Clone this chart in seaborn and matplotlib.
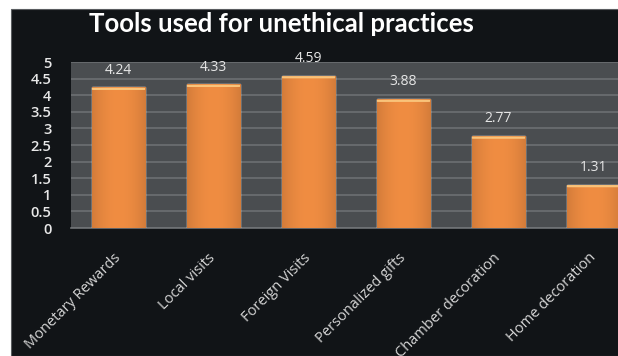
import matplotlib
matplotlib.use("Agg")
import matplotlib.pyplot as plt
import matplotlib.patches as mpatches
import numpy as np
import pandas as pd
import seaborn as sns

categories = ["Monetary Rewards", "Local visits", "Foreign Visits",
              "Personalized gifts", "Chamber decoration", "Home decoration"]
scores = [4.24, 4.33, 4.59, 3.88, 2.77, 1.31]
y_ticks = [0, 0.5, 1, 1.5, 2, 2.5, 3, 3.5, 4, 4.5, 5]
y_tick_labels = ["0", "0.5", "1", "1.5", "2", "2.5", "3", "3.5", "4", "4.5", "5"]
title = "Tools used for unethical practices"

sns.set_theme(style="dark")
plt.rcParams["font.family"] = ["Open Sans", "DejaVu Sans"]

W, H = 618, 356
fig = plt.figure(figsize=(W / 100, H / 100), dpi=100, facecolor="white")

# dark slide panel behind the chart
fig.patches.append(mpatches.Rectangle((11 / W, 0), 1, 1 - 9 / H,
                                      transform=fig.transFigure,
                                      facecolor="#111417", edgecolor="#5a5d60",
                                      linewidth=0.8, zorder=-10))

ax = fig.add_axes([71 / W, 128 / H, 570 / W, 166 / H])
ax.set_zorder(5)
ax.set_facecolor("#4a4d50")

df = pd.DataFrame({"tool": categories, "score": scores})
sns.barplot(data=df, x="tool", y="score", color="#ef8a3e", width=0.56,
            saturation=1, ax=ax, zorder=3)

ax.set_ylim(0, 5)
ax.set_xlim(-0.5, len(categories) - 0.5)
ax.set_yticks(y_ticks)
ax.set_yticklabels(y_tick_labels)
ax.yaxis.grid(True, color="#676a6d", linewidth=1.4, zorder=1)
ax.xaxis.grid(False)
ax.set_axisbelow(True)
for side in ["top", "right", "left"]:
    ax.spines[side].set_visible(False)
ax.spines["bottom"].set_color("#707376")
ax.spines["bottom"].set_linewidth(1.2)

ax.tick_params(axis="y", length=0, pad=14, labelsize=10.5, labelcolor="#e8e8e8")
ax.tick_params(axis="x", length=0, pad=20, labelsize=10.5, labelcolor="#d6d6d6")
for lbl in ax.get_yticklabels():
    lbl.set_fontweight("semibold")
for lbl in ax.get_xticklabels():
    lbl.set_rotation(45)
    lbl.set_ha("right")
    lbl.set_va("center")
    lbl.set_rotation_mode("anchor")
ax.set_xlabel("")
ax.set_ylabel("")

# soft bevel shading on each bar
grad = np.linspace(0, 1, 64)
shade = 1 - 0.12 * np.abs(grad - 0.5) ** 2 * 4
rgb = np.array(matplotlib.colors.to_rgb("#f08d42"))
for bar in list(ax.patches):
    x0, y0 = bar.get_x(), bar.get_y()
    w, h = bar.get_width(), bar.get_height()
    img = np.clip(shade[None, :, None] * rgb[None, None, :], 0, 1)
    im = ax.imshow(img, extent=[x0, x0 + w, y0, y0 + h], aspect="auto",
                   zorder=3.5, interpolation="bilinear")
    im.set_clip_path(bar)
    ax.add_patch(mpatches.FancyBboxPatch((x0 + 0.01, y0 + h - 0.08), w - 0.02, 0.06,
                                         boxstyle="round,pad=0.01,rounding_size=0.02",
                                         facecolor="#f9c37a", edgecolor="none",
                                         zorder=3.6, mutation_aspect=0.3))
ax.set_xlim(-0.5, len(categories) - 0.5)
ax.set_ylim(0, 5)

for i, v in enumerate(scores):
    ax.annotate(f"{v:.2f}", (i, v), xytext=(0, 7), textcoords="offset points",
                ha="center", va="bottom", color="#e6e6e6", fontsize=10,
                annotation_clip=False)

fig.text(0.455, 0.933, title, ha="center", va="center", color="white",
         fontsize=18.5, fontweight="bold", family=["Lato", "DejaVu Sans"])

fig.savefig("out.png", dpi=100, facecolor="white")
